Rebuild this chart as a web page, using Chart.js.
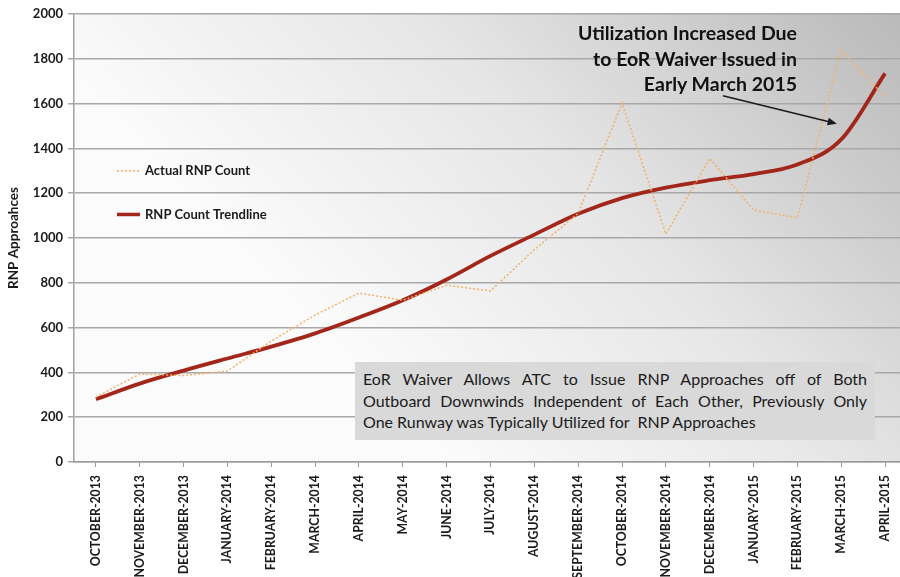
<!DOCTYPE html>
<html>
<head>
<meta charset="utf-8">
<script src="https://cdn.jsdelivr.net/npm/chart.js@4.4.1/dist/chart.umd.min.js"></script>
<style>
    html, body { margin: 0; padding: 0; background: #fff; overflow: hidden; }
    .wrap { position: relative; width: 910px; height: 577px; }
    .note {
        position: absolute;
        left: 355px; top: 362px; width: 504px;
        padding: 6px 8px 7px 8px;
        background: #d9d9d9;
        font-family: "Lato", "Open Sans", sans-serif;
        font-size: 16px; line-height: 21.5px; color: #1b1b1b;
    }
    .note span { display: block; white-space: nowrap; }
    .note span.full { text-align: justify; text-align-last: justify; white-space: normal; }
    .callout {
        position: absolute;
        right: 113px; top: 20px;
        font-family: "Lato", "Open Sans", sans-serif;
        font-weight: bold; font-size: 19.5px; line-height: 25.5px; color: #111;
        text-align: right;
    }
</style>
</head>
<body>
<div class="wrap">
    <canvas id="rnpChart" width="910" height="577"></canvas>
    <div class="callout">Utilization Increased Due<br>to EoR Waiver Issued in<br>Early March 2015</div>
    <div class="note">
        <span class="full">EoR Waiver Allows ATC to Issue RNP Approaches off of Both</span>
        <span class="full">Outboard Downwinds Independent of Each Other, Previously Only</span>
        <span>One Runway was Typically Utilized for&nbsp; RNP Approaches</span>
    </div>
</div>
<script>
const months = ["OCTOBER-2013", "NOVEMBER-2013", "DECEMBER-2013", "JANUARY-2014", "FEBRUARY-2014",
    "MARCH-2014", "APRIL-2014", "MAY-2014", "JUNE-2014", "JULY-2014", "AUGUST-2014", "SEPTEMBER-2014",
    "OCTOBER-2014", "NOVEMBER-2014", "DECEMBER-2014", "JANUARY-2015", "FEBRUARY-2015", "MARCH-2015", "APRIL-2015"];

const actualCounts = [290, 393, 386, 406, 540, 656, 754, 722, 789, 764, 948, 1110, 1603, 1018, 1355, 1125, 1090, 1840, 1630];
const trendCounts = [280, 350, 408, 462, 515, 574, 645, 722, 815, 920, 1015, 1108, 1178, 1225, 1258, 1285, 1328, 1440, 1735];

const yTicks = [0, 200, 400, 600, 800, 1000, 1200, 1400, 1600, 1800, 2000];

const FONT = "\"Lato\", \"Open Sans\", sans-serif";
const ACTUAL_COLOR = "#f2b06a";
const TREND_COLOR = "#a3261b";

// grey wash behind the plot, darker toward the upper right
const plotBackground = {
    id: 'plotBackground',
    beforeDraw(chart) {
        const {ctx, chartArea: a} = chart;
        const g = ctx.createLinearGradient(a.right, a.top, a.left + a.width * 0.45, a.bottom);
        g.addColorStop(0, "#b9b9b9");
        g.addColorStop(0.55, "#e6e6e6");
        g.addColorStop(1, "#fbfbfb");
        ctx.save();
        ctx.fillStyle = g;
        ctx.fillRect(a.left, a.top, a.width, a.height);
        ctx.restore();
    }
};

// legend sits inside the plot, plus the arrow for the callout
const extras = {
    id: 'extras',
    afterDraw(chart) {
        const {ctx, chartArea: a, scales} = chart;
        const x = scales.x, y = scales.y;
        ctx.save();

        const rows = [
            {text: "Actual RNP Count", color: ACTUAL_COLOR, width: 1.5, dash: [2, 2], at: 1300},
            {text: "RNP Count Trendline", color: TREND_COLOR, width: 3.5, dash: [], at: 1105}
        ];
        rows.forEach(r => {
            const py = y.getPixelForValue(r.at);
            ctx.strokeStyle = r.color;
            ctx.lineWidth = r.width;
            ctx.setLineDash(r.dash);
            ctx.beginPath();
            ctx.moveTo(a.left + 43, py);
            ctx.lineTo(a.left + 66, py);
            ctx.stroke();
            ctx.setLineDash([]);
            ctx.fillStyle = "#1a1a1a";
            ctx.font = "bold 13px " + FONT;
            ctx.textBaseline = "middle";
            ctx.fillText(r.text, a.left + 71, py);
        });

        // arrow pointing at the March 2015 jump
        const x0 = x.getPixelForValue(14.3), y0 = y.getPixelForValue(1635);
        const x1 = x.getPixelForValue(16.9), y1 = y.getPixelForValue(1510);
        const ang = Math.atan2(y1 - y0, x1 - x0);
        ctx.strokeStyle = "#1a1a1a";
        ctx.fillStyle = "#1a1a1a";
        ctx.lineWidth = 1.5;
        ctx.beginPath();
        ctx.moveTo(x0, y0);
        ctx.lineTo(x1 - 6 * Math.cos(ang), y1 - 6 * Math.sin(ang));
        ctx.stroke();
        ctx.beginPath();
        ctx.moveTo(x1, y1);
        ctx.lineTo(x1 - 10 * Math.cos(ang - 0.4), y1 - 10 * Math.sin(ang - 0.4));
        ctx.lineTo(x1 - 10 * Math.cos(ang + 0.4), y1 - 10 * Math.sin(ang + 0.4));
        ctx.closePath();
        ctx.fill();
        ctx.restore();
    }
};

const ctx = document.getElementById("rnpChart").getContext("2d");

new Chart(ctx, {
    type: 'line',
    data: {
        labels: months,
        datasets: [
            {
                label: "Actual RNP Count",
                data: actualCounts,
                borderColor: ACTUAL_COLOR,
                borderWidth: 1.5,
                borderDash: [2, 2],
                pointRadius: 0,
                tension: 0
            },
            {
                label: "RNP Count Trendline",
                data: trendCounts,
                borderColor: TREND_COLOR,
                borderWidth: 3.8,
                pointRadius: 0,
                cubicInterpolationMode: 'monotone'
            }
        ]
    },
    options: {
        responsive: false,
        animation: false,
        layout: {padding: {top: 14, right: 3, left: 0, bottom: 0}},
        plugins: {
            legend: {display: false},
            tooltip: {enabled: false}
        },
        scales: {
            x: {
                offset: true,
                grid: {
                    drawOnChartArea: false,
                    color: "#9a9a9a",
                    tickLength: 5,
                    lineWidth: 1
                },
                border: {color: "#9a9a9a", width: 1.5},
                ticks: {
                    autoSkip: false,
                    minRotation: 90,
                    maxRotation: 90,
                    padding: 8,
                    color: "#1a1a1a",
                    font: {family: FONT, size: 12.3, weight: 'bold'}
                },
                afterFit(scale) { scale.height = 115; }
            },
            y: {
                min: 0,
                max: 2000,
                afterBuildTicks(scale) { scale.ticks = yTicks.map(v => ({value: v})); },
                grid: {
                    color: "#a8a8a8",
                    lineWidth: 1.5,
                    tickLength: 6
                },
                border: {color: "#a0a0a0", width: 1.5},
                ticks: {
                    padding: 5,
                    color: "#1a1a1a",
                    font: {family: FONT, size: 13, weight: 'bold'},
                    callback: (v) => String(v)
                },
                title: {
                    display: true,
                    text: "RNP Approahces",
                    color: "#1a1a1a",
                    padding: {top: 6, bottom: 0},
                    font: {family: FONT, size: 13.5, weight: 'bold'}
                },
                afterFit(scale) { scale.width = 74; }
            }
        }
    },
    plugins: [plotBackground, extras]
});
</script>
</body>
</html>
